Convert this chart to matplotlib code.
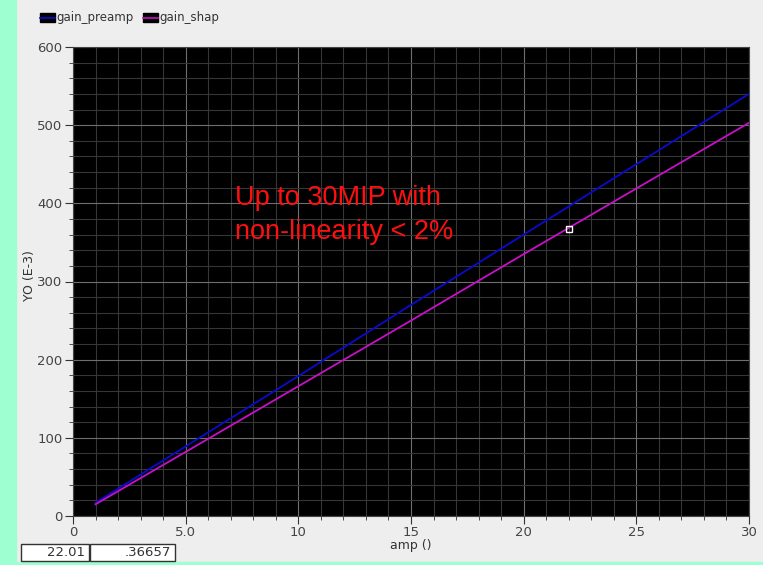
import numpy as np
import matplotlib.pyplot as plt
from matplotlib.patches import Rectangle
from matplotlib.lines import Line2D

amp = [1, 5, 10, 15, 20, 25, 30]
gain_preamp = [17, 89, 179, 270, 360, 450, 540]
gain_shap = [15, 82, 166, 250, 335, 419, 503]
cursor_x, cursor_y = 22.01, 366.57
xticks = [0, 5, 10, 15, 20, 25, 30]
xticklabels = ['0', '5.0', '10', '15', '20', '25', '30']
yticks = [0, 100, 200, 300, 400, 500, 600]

W, H = 763, 565
fig = plt.figure(figsize=(W / 100, H / 100), dpi=100, facecolor='#eeeeee')

# green frame strips
fig.patches.append(Rectangle((0, 0), 16 / W, 1, transform=fig.transFigure,
                             color='#9effd0', zorder=0))
fig.patches.append(Rectangle((0, 0), 1, 3 / H, transform=fig.transFigure,
                             color='#9effd0', zorder=0))

ax = fig.add_axes([73 / W, 1 - 516 / H, 676 / W, 469 / H])
ax.set_facecolor('black')
ax.plot(amp, gain_preamp, color='#0a0ad0', lw=1.3)
ax.plot(amp, gain_shap, color='#c810c8', lw=1.3)
ax.plot([cursor_x], [cursor_y], marker='s', ms=4, mfc='none', mec='white', mew=1)

ax.set_xlim(0, 30)
ax.set_ylim(0, 600)
ax.set_xticks(xticks)
ax.set_xticklabels(xticklabels)
ax.set_yticks(yticks)
ax.set_xticks(np.arange(0, 31, 1), minor=True)
ax.set_yticks(np.arange(0, 601, 20), minor=True)
ax.grid(which='major', color='#6e6e6e', lw=0.8)
ax.grid(which='minor', color='#363636', lw=0.8)
ax.set_axisbelow(True)
ax.tick_params(which='major', length=6, color='#333333', labelsize=9.5,
               labelcolor='#444444', direction='out', pad=1.5)
ax.tick_params(which='minor', length=3, color='#333333', direction='out')
for s in ax.spines.values():
    s.set_color('#444444')

ax.set_xlabel('amp ()', fontsize=9, color='#333333', labelpad=0)
ax.set_ylabel('YO (E-3)', fontsize=9, color='#333333')
ax.yaxis.set_label_coords(-0.055, 0.512)

ax.text(7.2, 424, 'Up to 30MIP with\nnon-linearity < 2%', color='#ff1010',
        fontsize=19.5, family='Liberation Sans', va='top', ha='left',
        linespacing=1.4)

# legend along the top
for x0, lab, col in [(40, 'gain_preamp', '#0a0ad0'), (143, 'gain_shap', '#c810c8')]:
    fig.patches.append(Rectangle((x0 / W, 1 - 22 / H), 15 / W, 9 / H,
                                 transform=fig.transFigure, color='black'))
    fig.lines.append(Line2D([x0 / W, (x0 + 15) / W], [1 - 17.5 / H, 1 - 17.5 / H],
                            transform=fig.transFigure, color=col, lw=1.2))
    fig.text((x0 + 16) / W, 1 - 17.5 / H, lab, fontsize=8.5, va='center',
             color='#333333')

# cursor readout boxes
for x0, x1, val in [(21, 89, '22.01'), (90, 175, '.36657')]:
    fig.patches.append(Rectangle((x0 / W, 1 - 561 / H), (x1 - x0) / W, 17 / H,
                                 transform=fig.transFigure, facecolor='white',
                                 edgecolor='#333333', lw=1))
    fig.text((x1 - 4) / W, 1 - 552 / H, val, fontsize=9.5, ha='right',
             va='center', color='#333333')

fig.savefig('out.png', dpi=100, facecolor=fig.get_facecolor())
